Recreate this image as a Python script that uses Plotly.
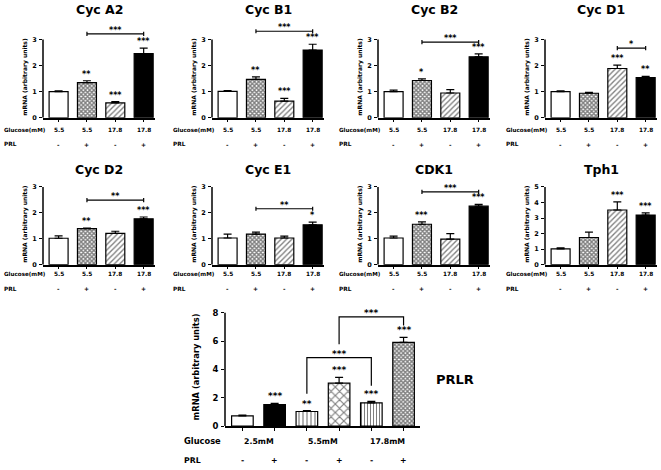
import plotly.graph_objects as go

W, H = 661, 470
FONT = "DejaVu Sans"

# ---------------- data ----------------
glucose_small = ["5.5", "5.5", "17.8", "17.8"]
prl_small = ["-", "+", "-", "+"]

cycA2_mean = [1.00, 1.35, 0.57, 2.46]
cycA2_err = [0.03, 0.07, 0.05, 0.21]
cycA2_sig = ["", "**", "***", "***"]
cycA2_bracket = [1, 3, 3.22, "***"]

cycB1_mean = [1.01, 1.47, 0.64, 2.60]
cycB1_err = [0.03, 0.10, 0.10, 0.22]
cycB1_sig = ["", "**", "***", "***"]
cycB1_bracket = [1, 3, 3.32, "***"]

cycB2_mean = [1.00, 1.43, 0.95, 2.34]
cycB2_err = [0.06, 0.06, 0.13, 0.11]
cycB2_sig = ["", "*", "", "***"]
cycB2_bracket = [1, 3, 2.90, "***"]

cycD1_mean = [1.00, 0.94, 1.89, 1.54]
cycD1_err = [0.03, 0.03, 0.13, 0.05]
cycD1_sig = ["", "", "***", "**"]
cycD1_bracket = [2, 3, 2.67, "*"]

cycD2_mean = [1.02, 1.39, 1.21, 1.77]
cycD2_err = [0.09, 0.02, 0.08, 0.07]
cycD2_sig = ["", "**", "", "***"]
cycD2_bracket = [1, 3, 2.49, "**"]

cycE1_mean = [1.03, 1.18, 1.03, 1.54]
cycE1_err = [0.15, 0.08, 0.07, 0.10]
cycE1_sig = ["", "", "", "*"]
cycE1_bracket = [1, 3, 2.16, "**"]

cdk1_mean = [1.03, 1.56, 0.99, 2.26]
cdk1_err = [0.07, 0.09, 0.21, 0.07]
cdk1_sig = ["", "***", "", "***"]
cdk1_bracket = [1, 3, 2.81, "***"]

tph1_mean = [1.01, 1.75, 3.52, 3.19]
tph1_err = [0.08, 0.35, 0.52, 0.15]
tph1_sig = ["", "", "***", "***"]
tph1_bracket = None

prlr_glucose = ["2.5mM", "5.5mM", "17.8mM"]
prlr_prl = ["-", "+", "-", "+", "-", "+"]
prlr_mean = [0.72, 1.52, 1.03, 3.03, 1.64, 5.90]
prlr_err = [0.05, 0.08, 0.07, 0.40, 0.11, 0.35]
prlr_sig = ["", "***", "**", "***", "***", "***"]
# [from bar, to bar, bracket height, left leg end, right leg end, label]
prlr_brackets = [[2, 4, 4.83, 2.29, 2.85, "***"],
                 [3, 5, 7.70, 5.78, 7.10, "***"]]

small_panels = [
    ("Cyc A2", cycA2_mean, cycA2_err, cycA2_sig, cycA2_bracket, 3),
    ("Cyc B1", cycB1_mean, cycB1_err, cycB1_sig, cycB1_bracket, 3),
    ("Cyc B2", cycB2_mean, cycB2_err, cycB2_sig, cycB2_bracket, 3),
    ("Cyc D1", cycD1_mean, cycD1_err, cycD1_sig, cycD1_bracket, 3),
    ("Cyc D2", cycD2_mean, cycD2_err, cycD2_sig, cycD2_bracket, 3),
    ("Cyc E1", cycE1_mean, cycE1_err, cycE1_sig, cycE1_bracket, 3),
    ("CDK1", cdk1_mean, cdk1_err, cdk1_sig, cdk1_bracket, 3),
    ("Tph1", tph1_mean, tph1_err, tph1_sig, tph1_bracket, 5),
]

# ---------------- styles ----------------
# (base colour, pattern shape, pattern size, solidity)
small_styles = [("white", "", 4, 0.3), ("white", "x", 3, 0.7),
                ("white", "/", 3.8, 0.35), ("black", "", 4, 0.3)]
prlr_styles = [("white", "", 4, 0.3), ("black", "", 4, 0.3), ("white", "|", 4, 0.3),
               ("white", "x", 6, 0.35), ("white", "|", 3, 0.35), ("white", "x", 3, 0.7)]

# ---------------- geometry (pixels) ----------------
col_left = [43, 212, 378, 545]
small_w = 112
rows = [
    dict(y0=119, yt=40, title=10, glu=131, prl=146),
    dict(y0=267.5, yt=189, title=171, glu=277, prl=292),
]
EXT = 7.0 / 6.0


def px(x):
    return x / W


def py(y):
    return 1 - y / H


def bold(t):
    return "<b>" + t + "</b>"


fig = go.Figure()
layout = dict(width=W, height=H, margin=dict(l=0, r=0, t=0, b=0),
              paper_bgcolor="white", plot_bgcolor="white", showlegend=False,
              font=dict(family=FONT, color="black"))
shapes, annots = [], []


def add_bars(xs, mean, err, styles):
    for k in range(len(mean)):
        col, shp, size, sol = styles[k]
        marker = dict(color=col, line=dict(color="black", width=1.2))
        if shp:
            marker["pattern"] = dict(shape=shp, fgcolor="black", bgcolor="white",
                                     size=size, solidity=sol, fillmode="overlay")
        fig.add_trace(go.Bar(
            x=[k], y=[mean[k]], width=0.67, xaxis="x" + xs, yaxis="y" + xs,
            marker=marker,
            error_y=dict(type="data", array=[err[k]], arrayminus=[0], symmetric=False,
                         color="black", thickness=1.2, width=4)))


for i, (name, mean, err, sig, br, top) in enumerate(small_panels):
    n = i + 1
    xs = "" if n == 1 else str(n)
    r = rows[i // 4]
    left = col_left[i % 4]
    xvals = list(range(len(mean)))
    add_bars(xs, mean, err, small_styles)
    layout["xaxis" + xs] = dict(
        domain=[px(left), px(left + small_w)], range=[-0.55, 3.4], anchor="y" + xs,
        showline=True, linecolor="black", linewidth=1.5, ticks="outside", ticklen=3,
        tickwidth=1.2, tickcolor="black", tickvals=xvals, showticklabels=False,
        showgrid=False, zeroline=False, fixedrange=True)
    layout["yaxis" + xs] = dict(
        domain=[py(r["y0"]), py(r["y0"] - (r["y0"] - r["yt"]) * EXT)],
        range=[0, top * EXT], anchor="x" + xs, showline=False, ticks="outside",
        ticklen=3, tickwidth=1.2, tickcolor="black", tickvals=list(range(0, top + 1)),
        tickfont=dict(size=6.5, family=FONT, weight="bold"), ticklabelstandoff=1,
        showgrid=False, zeroline=False, fixedrange=True)
    shapes.append(dict(type="line", xref="x" + xs + " domain", yref="y" + xs,
                       x0=0, x1=0, y0=0, y1=top, line=dict(color="black", width=1.5)))
    for k in xvals:
        if sig[k]:
            annots.append(dict(x=k, y=mean[k] + err[k], xref="x" + xs, yref="y" + xs,
                               text=bold(sig[k]), showarrow=False, yanchor="bottom",
                               font=dict(size=8, family=FONT)))
    if br:
        a, b, h, lab = br
        c = top * 0.027
        shapes.append(dict(type="line", xref="x" + xs, yref="y" + xs, x0=a, x1=b, y0=h, y1=h,
                           line=dict(color="black", width=1.2)))
        for e in (a, b):
            shapes.append(dict(type="line", xref="x" + xs, yref="y" + xs, x0=e, x1=e,
                               y0=h - c, y1=h + c, line=dict(color="black", width=1.2)))
        annots.append(dict(x=(a + b) / 2, y=h, xref="x" + xs, yref="y" + xs, text=bold(lab),
                           showarrow=False, yanchor="bottom", yshift=-3,
                           font=dict(size=8, family=FONT)))
    annots.append(dict(x=px(left + small_w / 2), y=py(r["title"]), xref="paper", yref="paper",
                       text=bold(name), showarrow=False, yanchor="middle", xanchor="center",
                       font=dict(size=12.5, family=FONT)))
    annots.append(dict(x=px(left - 18), y=py((r["y0"] + r["yt"]) / 2 - 2), xref="paper",
                       yref="paper", text=bold("mRNA (arbitrary units)"), textangle=-90,
                       showarrow=False, xanchor="center", yanchor="middle",
                       font=dict(size=6, family=FONT)))
    annots.append(dict(x=px(left - 41), y=py(r["glu"]), xref="paper", yref="paper",
                       text=bold("Glucose(mM)"), showarrow=False, xanchor="left",
                       yanchor="middle", font=dict(size=5.6, family=FONT)))
    annots.append(dict(x=px(left - 41), y=py(r["prl"]), xref="paper", yref="paper",
                       text=bold("PRL"), showarrow=False, xanchor="left",
                       yanchor="middle", font=dict(size=5.8, family=FONT)))
    for k in xvals:
        annots.append(dict(x=k, y=py(r["glu"]), xref="x" + xs, yref="paper",
                           text=bold(glucose_small[k]), showarrow=False,
                           yanchor="middle", font=dict(size=5.8, family=FONT)))
        annots.append(dict(x=k, y=py(r["prl"]), xref="x" + xs, yref="paper",
                           text=bold(prl_small[k]), showarrow=False,
                           yanchor="middle", font=dict(size=6, family=FONT)))

# ---------------- PRLR panel ----------------
xs = "9"
p_left, p_right, p_y0, p_yt, p_top = 225, 420, 430.7, 316, 8
xvals = list(range(len(prlr_mean)))
add_bars(xs, prlr_mean, prlr_err, prlr_styles)
layout["xaxis" + xs] = dict(
    domain=[px(p_left), px(p_right)], range=[-0.54, 5.51], anchor="y" + xs,
    showline=True, linecolor="black", linewidth=1.5, ticks="outside", ticklen=3,
    tickwidth=1.2, tickcolor="black", tickvals=xvals, showticklabels=False,
    showgrid=False, zeroline=False, fixedrange=True)
layout["yaxis" + xs] = dict(
    domain=[py(p_y0), py(p_y0 - (p_y0 - p_yt) * EXT)], range=[0, p_top * EXT],
    anchor="x" + xs, showline=False, ticks="outside", ticklen=3, tickwidth=1.2,
    tickcolor="black", tickvals=list(range(0, p_top + 1, 2)),
    tickfont=dict(size=8.5, family=FONT, weight="bold"), ticklabelstandoff=1,
    showgrid=False, zeroline=False, fixedrange=True)
shapes.append(dict(type="line", xref="x" + xs + " domain", yref="y" + xs,
                   x0=0, x1=0, y0=0, y1=p_top, line=dict(color="black", width=1.5)))
for k in xvals:
    if prlr_sig[k]:
        annots.append(dict(x=k, y=prlr_mean[k] + prlr_err[k], xref="x" + xs, yref="y" + xs,
                           text=bold(prlr_sig[k]), showarrow=False, yanchor="bottom",
                           font=dict(size=9, family=FONT)))
for a, b, h, la, lb, lab in prlr_brackets:
    shapes.append(dict(type="path", xref="x" + xs, yref="y" + xs,
                       path=f"M {a},{la} L {a},{h} L {b},{h} L {b},{lb}",
                       line=dict(color="black", width=1.2)))
    annots.append(dict(x=(a + b) / 2, y=h, xref="x" + xs, yref="y" + xs, text=bold(lab),
                       showarrow=False, yanchor="bottom", yshift=-3,
                       font=dict(size=9, family=FONT)))
annots.append(dict(x=px(196), y=py((p_y0 + p_yt) / 2 - 2), xref="paper", yref="paper",
                   text=bold("mRNA (arbitrary units)"), textangle=-90, showarrow=False,
                   xanchor="center", yanchor="middle", font=dict(size=8.3, family=FONT)))
annots.append(dict(x=px(455), y=py(384), xref="paper", yref="paper", text=bold("PRLR"),
                   showarrow=False, xanchor="center", yanchor="middle",
                   font=dict(size=13, family=FONT)))
annots.append(dict(x=px(182), y=py(446), xref="paper", yref="paper", text=bold("Glucose"),
                   showarrow=False, xanchor="left", yanchor="middle",
                   font=dict(size=8.3, family=FONT)))
annots.append(dict(x=px(182), y=py(465), xref="paper", yref="paper", text=bold("PRL"),
                   showarrow=False, xanchor="left", yanchor="middle",
                   font=dict(size=7.8, family=FONT)))
for g, lab in enumerate(prlr_glucose):
    annots.append(dict(x=2 * g + 0.5, y=py(446), xref="x" + xs, yref="paper", text=bold(lab),
                       showarrow=False, yanchor="middle", font=dict(size=7.8, family=FONT)))
for k in xvals:
    annots.append(dict(x=k, y=py(465.5), xref="x" + xs, yref="paper", text=bold(prlr_prl[k]),
                       showarrow=False, yanchor="middle", font=dict(size=7.8, family=FONT)))

layout["shapes"] = shapes
layout["annotations"] = annots
fig.update_layout(**layout)
fig.write_html("out.html", config={"displayModeBar": False},
               post_script="document.body.style.margin='0';document.body.style.overflow='hidden';")
